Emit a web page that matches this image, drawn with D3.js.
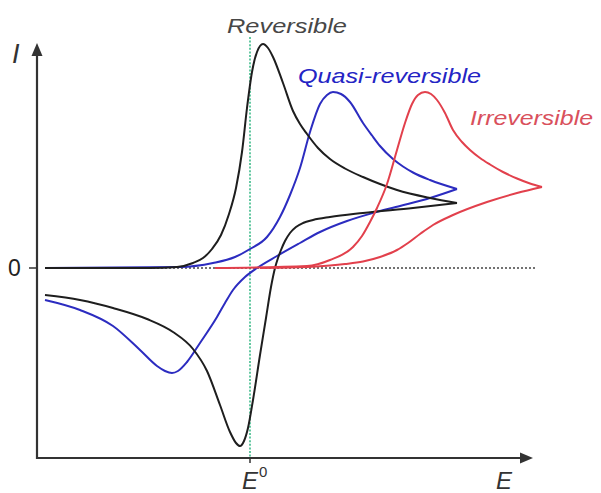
<!DOCTYPE html>
<html>
<head>
<meta charset="utf-8">
<script src="https://cdn.jsdelivr.net/npm/d3@7"></script>
<style>
  html, body { margin: 0; padding: 0; background: #fff; }
  svg { display: block; }
  text { font-family: "Liberation Sans", Arial, sans-serif; }
</style>
</head>
<body>
<svg id="chart" width="601" height="493"></svg>
<script>
// Cyclic voltammograms: potential E (mV vs E0) and current I (arb. units).
// Each curve is stored as its forward (anodic) and reverse (cathodic) branch.

const reversibleForward = [
  [-512.5, 0], [-250, 0], [-182.5, 0.1], [-142.5, 0.5], [-117.5, 1.0], [-95, 1.9],
  [-72.5, 3.3], [-52.5, 5.4], [-35, 8.0], [-20, 11.6], [-7.5, 16.0], [5, 19.6],
  [17.5, 21.6], [32.5, 22.4], [45, 22.0], [57.5, 21.1], [82.5, 18.5], [107.5, 15.7],
  [125, 14.4], [142.5, 13.4], [170, 12.0], [200, 10.9], [237.5, 9.95], [282.5, 9.1],
  [325, 8.4], [367.5, 7.8], [450, 7.0], [517.5, 6.5]
];
const reversibleReverse = [
  [517.5, 6.5], [407.5, 6.0], [282.5, 5.5], [200, 5.1], [157.5, 4.8], [132.5, 4.5],
  [115, 4.1], [100, 3.5], [87.5, 2.7], [77.5, 1.8], [70, 1.0], [62.5, 0],
  [52.5, -1.9], [40, -5.0], [25, -8.7], [7.5, -13.2], [-5, -16.0], [-15, -17.3],
  [-25, -17.8], [-35, -17.5], [-50, -16.4], [-75, -13.7], [-107.5, -10.3],
  [-142.5, -8.1], [-192.5, -6.4], [-257.5, -5.1], [-342.5, -4.0], [-425, -3.2],
  [-512.5, -2.7]
];

const quasiForward = [
  [-512.5, 0], [-175, 0.1], [-92.5, 0.5], [-37.5, 1.1], [0, 1.9], [42.5, 3.1],
  [75, 5.1], [100, 7.3], [125, 10.0], [150, 13.6], [175, 16.4], [192.5, 17.3],
  [207.5, 17.6], [227.5, 17.4], [250, 16.6], [282.5, 14.5], [305, 13.25],
  [325, 12.2], [357.5, 10.9], [382.5, 10.15], [407.5, 9.55], [450, 8.8], [517.5, 7.9]
];
const quasiReverse = [
  [517.5, 7.9], [450, 7.0], [375, 6.2], [307.5, 5.5], [242.5, 4.7], [175, 3.6],
  [125, 2.5], [67.5, 1.2], [17.5, 0], [-12.5, -0.9], [-42.5, -2.2], [-62.5, -3.5],
  [-82.5, -4.9], [-125, -7.5], [-157.5, -9.4], [-180, -10.3], [-195, -10.5],
  [-212.5, -10.3], [-232.5, -9.8], [-275, -8.2], [-342.5, -5.8], [-425, -4.2],
  [-512.5, -3.2]
];

const irreversibleForward = [
  [-87.5, 0], [142.5, 0.2], [200, 0.8], [257.5, 2.1], [280, 3.2], [300, 4.6],
  [317.5, 6.0], [342.5, 8.4], [367.5, 11.8], [387.5, 14.5], [405, 16.4], [420, 17.3],
  [437.5, 17.6], [452.5, 17.4], [467.5, 16.8], [487.5, 15.5], [507.5, 13.8],
  [530, 12.6], [550, 11.8], [575, 11.0], [600, 10.35], [632.5, 9.6], [667.5, 8.95],
  [700, 8.45], [730, 8.1]
];
const irreversibleReverse = [
  [730, 8.1], [667.5, 7.5], [592.5, 6.6], [507.5, 5.3], [457.5, 4.3], [425, 3.4],
  [395, 2.5], [367.5, 1.8], [325, 1.1], [282.5, 0.65], [237.5, 0.4], [200, 0.25],
  [117.5, 0.07], [25, 0]
];

const curveNames = ["Reversible", "Quasi-reversible", "Irreversible"];
const formalPotential = 0;   // E0
const axisLabels = { current: "I", potential: "E", zero: "0", formal: "E", formalSup: "0" };

const svg = d3.select("#chart");

const x = d3.scaleLinear().domain([-532.5, 707.5]).range([37, 533]);
const y = d3.scaleLinear().domain([-19, 22.5]).range([458, 43]);

// monotone interpolation along E keeps peaks without overshoot
const line = d3.line()
  .x(d => x(d[0]))
  .y(d => y(d[1]))
  .curve(d3.curveMonotoneX);

const axisColor = "#333";

// E0 reference line
svg.append("line")
  .attr("x1", x(formalPotential)).attr("x2", x(formalPotential))
  .attr("y1", 37).attr("y2", y(-19))
  .attr("stroke", "#3dbb8a").attr("stroke-width", 1.6)
  .attr("stroke-dasharray", "2,1.6");

// zero-current baseline
svg.append("line")
  .attr("x1", x(-512.5)).attr("x2", 537)
  .attr("y1", y(0)).attr("y2", y(0))
  .attr("stroke", "#444").attr("stroke-width", 1.4)
  .attr("stroke-dasharray", "2,2");

// voltammograms
const series = [
  { name: curveNames[1], color: "#2c2cc0", branches: [quasiForward, quasiReverse] },
  { name: curveNames[0], color: "#1e1e1e", branches: [reversibleForward, reversibleReverse] },
  { name: curveNames[2], color: "#e2404c", branches: [irreversibleForward, irreversibleReverse] }
];

series.forEach(s => {
  s.branches.forEach(b => {
    // sort each branch by potential so the monotone curve runs left to right
    const pts = b.slice().sort((a, c) => a[0] - c[0]);
    svg.append("path")
      .attr("d", line(pts))
      .attr("fill", "none")
      .attr("stroke", s.color)
      .attr("stroke-width", 2)
      .attr("stroke-linejoin", "miter");
  });
});

// axes
const x0 = x.range()[0], xEnd = x.range()[1];
const yBottom = y.range()[0], yTop = y.range()[1];

svg.append("line")
  .attr("x1", x0).attr("x2", x0)
  .attr("y1", yBottom + 1).attr("y2", yTop + 10)
  .attr("stroke", axisColor).attr("stroke-width", 2.2);
svg.append("path")
  .attr("d", `M${x0},${yTop} L${x0 - 5.5},${yTop + 13} L${x0 + 5.5},${yTop + 13} Z`)
  .attr("fill", axisColor);

svg.append("line")
  .attr("x1", x0 - 1).attr("x2", xEnd - 10)
  .attr("y1", yBottom).attr("y2", yBottom)
  .attr("stroke", axisColor).attr("stroke-width", 2.2);
svg.append("path")
  .attr("d", `M${xEnd},${yBottom} L${xEnd - 13},${yBottom - 5.5} L${xEnd - 13},${yBottom + 5.5} Z`)
  .attr("fill", axisColor);

// ticks at I = 0 and E = E0
svg.append("line")
  .attr("x1", x0 - 8).attr("x2", x0)
  .attr("y1", y(0)).attr("y2", y(0))
  .attr("stroke", axisColor).attr("stroke-width", 1.5);
svg.append("line")
  .attr("x1", x(formalPotential)).attr("x2", x(formalPotential))
  .attr("y1", yBottom).attr("y2", yBottom + 5)
  .attr("stroke", axisColor).attr("stroke-width", 1.5);

// axis labels
svg.append("text")
  .attr("x", 12).attr("y", 63)
  .attr("font-size", 27).attr("font-style", "italic")
  .attr("fill", "#333")
  .text(axisLabels.current);

svg.append("text")
  .attr("x", 8).attr("y", 276)
  .attr("font-size", 23)
  .attr("fill", "#222")
  .text(axisLabels.zero);

const e0 = svg.append("text")
  .attr("x", x(formalPotential) - 8).attr("y", 489)
  .attr("font-size", 24).attr("font-style", "italic")
  .attr("fill", "#333");
e0.append("tspan").text(axisLabels.formal);
e0.append("tspan")
  .attr("font-size", 15).attr("font-style", "normal")
  .attr("dy", -12).attr("dx", 1)
  .text(axisLabels.formalSup);

svg.append("text")
  .attr("x", 496).attr("y", 489)
  .attr("font-size", 24).attr("font-style", "italic")
  .attr("fill", "#333")
  .text(axisLabels.potential);

// curve labels
const labels = [
  { text: curveNames[0], x: 227, y: 33, w: 120, color: "#474747" },
  { text: curveNames[1], x: 298, y: 83, w: 183, color: "#2424c4" },
  { text: curveNames[2], x: 470, y: 125, w: 123, color: "#d9505c" }
];
labels.forEach(l => {
  svg.append("text")
    .attr("x", l.x).attr("y", l.y)
    .attr("font-size", 21).attr("font-style", "italic")
    .attr("textLength", l.w).attr("lengthAdjust", "spacingAndGlyphs")
    .attr("fill", l.color)
    .text(l.text);
});
</script>
</body>
</html>
